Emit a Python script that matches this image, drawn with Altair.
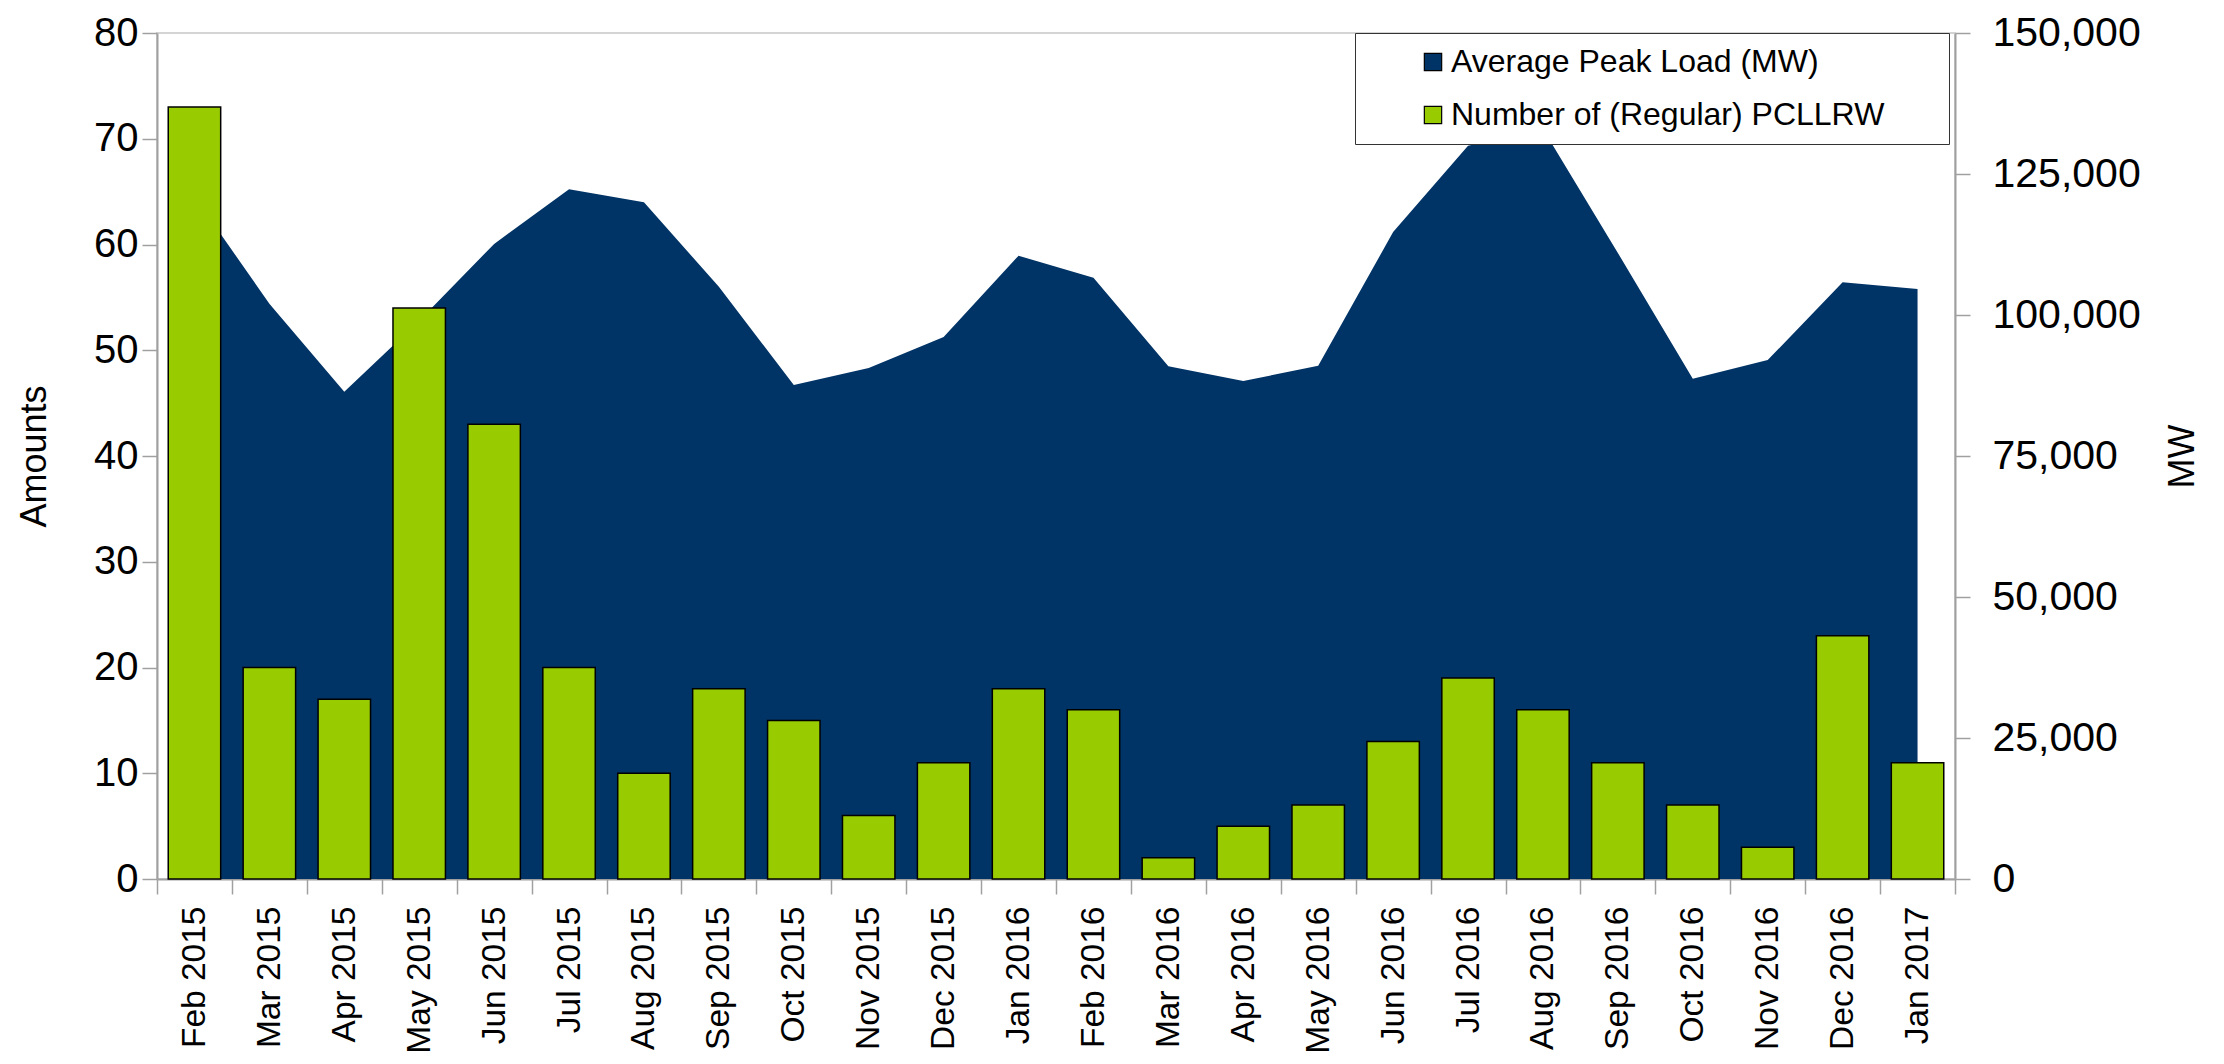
import altair as alt
import pandas as pd

months = ["Feb 2015", "Mar 2015", "Apr 2015", "May 2015", "Jun 2015", "Jul 2015",
          "Aug 2015", "Sep 2015", "Oct 2015", "Nov 2015", "Dec 2015", "Jan 2016",
          "Feb 2016", "Mar 2016", "Apr 2016", "May 2016", "Jun 2016", "Jul 2016",
          "Aug 2016", "Sep 2016", "Oct 2016", "Nov 2016", "Dec 2016", "Jan 2017"]
peak_load = [121000, 102000, 86400, 99000, 112600, 122300, 120000, 105000,
             87600, 90600, 96100, 110500, 106600, 90900, 88300, 91000,
             114700, 130000, 133000, 111000, 88700, 92000, 105800, 104600]
pcllrw = [73, 20, 17, 54, 43, 20, 10, 18, 15, 6, 11, 18,
          16, 2, 5, 7, 13, 19, 16, 11, 7, 3, 23, 11]
series_names = ["Average Peak Load (MW)", "Number of (Regular) PCLLRW"]
series_colors = ["#003366", "#99CC00"]
amount_ticks = [0, 10, 20, 30, 40, 50, 60, 70, 80]
mw_ticks = [0, 25000, 50000, 75000, 100000, 125000, 150000]

df = pd.DataFrame({
    "month": months,
    "load": peak_load,
    "count": pcllrw,
    "load_series": series_names[0],
    "count_series": series_names[1],
})

FONT = "Liberation Sans"
AXIS_GRAY = "#a0a0a0"

color_scale = alt.Scale(domain=series_names, range=series_colors)
legend = alt.Legend(
    orient="none", legendX=1198, legendY=0,
    title=" ", titleOrient="right", titlePadding=52, titleFont=FONT, titleFontSize=32,
    symbolType="square", symbolSize=300, symbolStrokeColor="#000000",
    symbolStrokeWidth=1.2, symbolOffset=49, labelOffset=2,
    labelFont=FONT, labelFontSize=32, labelColor="#000000", labelLimit=0,
    padding=13, rowPadding=21, strokeColor="#333333", fillColor="#ffffff",
)

x_enc = alt.X(
    "month:N", sort=months, title=None,
    scale=alt.Scale(paddingInner=0, paddingOuter=0),
    axis=alt.Axis(labelAngle=270, labelFont=FONT, labelFontSize=33.5, labelColor="#000000",
                  labelPadding=12, tickBand="extent", tickSize=15, tickColor=AXIS_GRAY,
                  tickWidth=1.5, domainColor=AXIS_GRAY, domainWidth=2, grid=False),
)

area = alt.Chart(df).mark_area(interpolate="linear", opacity=1).encode(
    x=x_enc,
    y=alt.Y("load:Q", scale=alt.Scale(domain=[0, 150000], nice=False),
            axis=alt.Axis(orient="right", values=mw_ticks, format=",.0f", title="MW",
                          titleAngle=270, titleFont=FONT, titleFontSize=36,
                          titleFontWeight="normal", titleColor="#000000", titlePadding=61,
                          labelFont=FONT, labelFontSize=41, labelColor="#000000",
                          labelPadding=22, tickSize=15, tickColor=AXIS_GRAY, tickWidth=1.5,
                          domainColor=AXIS_GRAY, domainWidth=2, grid=False)),
    color=alt.Color("load_series:N", scale=color_scale, legend=legend),
)

bars = alt.Chart(df).mark_bar(width=alt.RelativeBandSize(0.7), stroke="#000000",
                              strokeWidth=1.5).encode(
    x=x_enc,
    y=alt.Y("count:Q", scale=alt.Scale(domain=[0, 80], nice=False),
            axis=alt.Axis(orient="left", values=amount_ticks, title="Amounts",
                          titleFont=FONT, titleFontSize=36, titleFontWeight="normal",
                          titleColor="#000000", titlePadding=40,
                          labelFont=FONT, labelFontSize=40, labelColor="#000000",
                          labelPadding=4, tickSize=15, tickColor=AXIS_GRAY, tickWidth=1.5,
                          domainColor=AXIS_GRAY, domainWidth=2, grid=False)),
    color=alt.Color("count_series:N", scale=color_scale, legend=legend),
)

chart = alt.layer(area, bars).resolve_scale(y="independent").properties(
    width=1798, height=846,
    autosize=alt.AutoSizeParams(type="none"),
    padding={"left": 149, "top": 25, "right": 261, "bottom": 177},
).configure_view(stroke="#d4d4d4", strokeWidth=2)

chart.save("out.html", embed_options={"renderer": "svg", "actions": False})
